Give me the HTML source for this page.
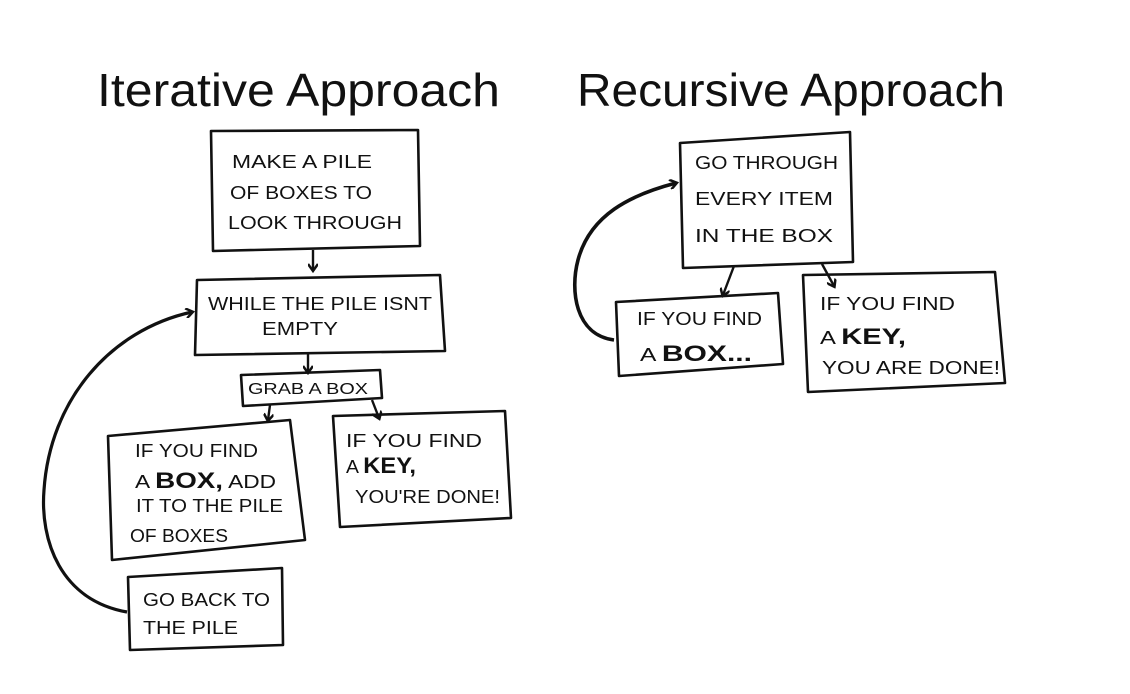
<!DOCTYPE html>
<html><head><style>
html,body{margin:0;padding:0;background:#fff;}
svg{display:block;}
text{font-family:"Liberation Sans",sans-serif;fill:#111;}
.t{font-size:18px;}
.b{font-weight:bold;font-size:22px;}
</style></head><body>
<svg width="1130" height="694" viewBox="0 0 1130 694">
<defs><marker id="a" markerWidth="10" markerHeight="10" refX="7" refY="5" orient="auto" markerUnits="userSpaceOnUse"><path d="M1,0 L8,5 L1,10" fill="none" stroke="#111" stroke-width="2.5"/></marker></defs>
<g fill="none" stroke="#111" stroke-width="2.6" stroke-linejoin="round">
<polygon points="211,131 418,130 420,246 213,251"/>
<polygon points="197,280 440,275 445,351 195,355"/>
<polygon points="241,375 380,370 382,398 243,406"/>
<polygon points="108,436 290,420 305,540 112,560"/>
<polygon points="333,416 505,411 511,518 340,527"/>
<polygon points="128,577 282,568 283,645 130,650"/>
<polygon points="680,143 850,132 853,262 683,268"/>
<polygon points="616,302 778,293 783,364 619,376"/>
<polygon points="803,275 995,272 1005,383 808,392"/>
<g stroke-width="2.4" marker-end="url(#a)">
<path d="M313,250 L313,270"/>
<path d="M308,354 L308,372"/>
<path d="M270,405 L268,420"/>
<path d="M372,400 L379,418"/>
<path d="M734,266 L723,295"/>
<path d="M822,264 L834,286"/>
<path d="M127,612 C60,600 40,540 44,490 C50,400 110,330 192,312" stroke-width="3.2"/>
<path d="M614,340 C575,335 570,290 578,260 C590,215 630,195 676,183" stroke-width="3.6"/>
</g>
</g>
<text x="97" y="106" font-size="46" textLength="403" lengthAdjust="spacingAndGlyphs">Iterative Approach</text>
<text x="577" y="106" font-size="46" textLength="428" lengthAdjust="spacingAndGlyphs">Recursive Approach</text>
<g class="t">
<text x="232" y="168" textLength="140" lengthAdjust="spacingAndGlyphs">MAKE A PILE</text>
<text x="230" y="199" textLength="142" lengthAdjust="spacingAndGlyphs">OF BOXES TO</text>
<text x="228" y="229" textLength="174" lengthAdjust="spacingAndGlyphs">LOOK THROUGH</text>
<text x="208" y="310" textLength="224" lengthAdjust="spacingAndGlyphs">WHILE THE PILE ISNT</text>
<text x="262" y="335" textLength="76" lengthAdjust="spacingAndGlyphs">EMPTY</text>
<text x="248" y="394" font-size="16" textLength="120" lengthAdjust="spacingAndGlyphs">GRAB A BOX</text>
<text x="135" y="457" textLength="123" lengthAdjust="spacingAndGlyphs">IF YOU FIND</text>
<text x="135" y="488" textLength="141" lengthAdjust="spacingAndGlyphs">A <tspan class="b">BOX,</tspan> ADD</text>
<text x="136" y="512" textLength="147" lengthAdjust="spacingAndGlyphs">IT TO THE PILE</text>
<text x="130" y="542" textLength="98" lengthAdjust="spacingAndGlyphs">OF BOXES</text>
<text x="346" y="447" textLength="136" lengthAdjust="spacingAndGlyphs">IF YOU FIND</text>
<text x="346" y="473" textLength="70" lengthAdjust="spacingAndGlyphs">A <tspan class="b">KEY,</tspan></text>
<text x="355" y="503" textLength="145" lengthAdjust="spacingAndGlyphs">YOU'RE DONE!</text>
<text x="143" y="606" textLength="127" lengthAdjust="spacingAndGlyphs">GO BACK TO</text>
<text x="143" y="634" textLength="95" lengthAdjust="spacingAndGlyphs">THE PILE</text>
<text x="695" y="169" textLength="143" lengthAdjust="spacingAndGlyphs">GO THROUGH</text>
<text x="695" y="205" textLength="138" lengthAdjust="spacingAndGlyphs">EVERY ITEM</text>
<text x="695" y="242" textLength="138" lengthAdjust="spacingAndGlyphs">IN THE BOX</text>
<text x="637" y="325" textLength="125" lengthAdjust="spacingAndGlyphs">IF YOU FIND</text>
<text x="640" y="361" textLength="112" lengthAdjust="spacingAndGlyphs">A <tspan class="b">BOX...</tspan></text>
<text x="820" y="310" textLength="135" lengthAdjust="spacingAndGlyphs">IF YOU FIND</text>
<text x="820" y="344" textLength="86" lengthAdjust="spacingAndGlyphs">A <tspan class="b">KEY,</tspan></text>
<text x="822" y="374" textLength="178" lengthAdjust="spacingAndGlyphs">YOU ARE DONE!</text>
</g>
</svg>
</body></html>
